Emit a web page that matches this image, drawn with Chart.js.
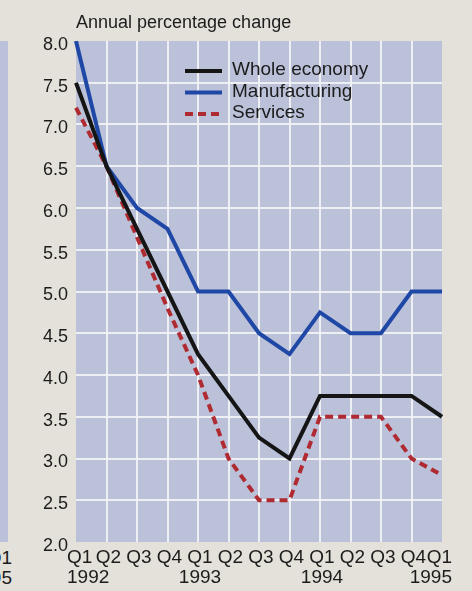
<!DOCTYPE html>
<html>
<head>
<meta charset="utf-8">
<script src="https://cdn.jsdelivr.net/npm/chart.js@4/dist/chart.umd.min.js"></script>
<style>
  html, body { margin: 0; padding: 0; background: #e3e1d9; }
  #wrap { position: relative; width: 472px; height: 591px; overflow: hidden; }
  #title { position: absolute; left: 76px; top: 12px; font: 18px "Liberation Sans", Arial, sans-serif; color: #1c1c1c; white-space: nowrap; }
  #edge { position: absolute; left: 0; top: 41px; width: 8px; height: 501px; background: #bac1d8; }
  .edgeLbl { position: absolute; right: 460px; font: 19px "Liberation Sans", Arial, sans-serif; color: #1c1c1c; white-space: nowrap; }
  canvas { position: absolute; left: 0; top: 0; }
</style>
</head>
<body>
<div id="wrap">
  <div id="edge"></div>
  <div class="edgeLbl" style="top:547px">Q1</div>
  <div class="edgeLbl" style="top:567px">1995</div>
  <canvas id="c" width="472" height="591"></canvas>
  <div id="title">Annual percentage change</div>
</div>
<script>
// Quarterly axis: quarter names, with the year shown under each Q1
const quarters = ["Q1","Q2","Q3","Q4","Q1","Q2","Q3","Q4","Q1","Q2","Q3","Q4","Q1"];
const years    = ["1992","","","","1993","","","","1994","","","","1995"];

// Annual percentage change by sector
const wholeEconomy  = [7.5, 6.5, 5.75, 5.0, 4.25, 3.75, 3.25, 3.0, 3.75, 3.75, 3.75, 3.75, 3.5];
const manufacturing = [8.0, 6.5, 6.0, 5.75, 5.0, 5.0, 4.5, 4.25, 4.75, 4.5, 4.5, 5.0, 5.0];
const services      = [7.2, 6.5, 5.65, 4.8, 4.0, 3.0, 2.5, 2.5, 3.5, 3.5, 3.5, 3.0, 2.8];

const seriesNames = ["Whole economy", "Manufacturing", "Services"];

const labels = quarters.map((q, i) => years[i] ? [q, years[i]] : q);

const FONT = '"Liberation Sans", Arial, sans-serif';
const INK = '#1c1c1c';
const PLOT_BG = '#bac1d8';
const GRID = 'rgba(240,241,244,0.95)';

// fills the plotting area with the tinted panel colour
const panelBg = {
  id: 'panelBg',
  beforeDraw(chart) {
    const { ctx, chartArea: a } = chart;
    ctx.save();
    ctx.fillStyle = PLOT_BG;
    ctx.fillRect(a.left, a.top, a.right - a.left, a.bottom - a.top);
    ctx.restore();
  }
};

// quarter/year labels under the axis; the end labels are tucked inward
const quarterLabels = {
  id: 'quarterLabels',
  afterDraw(chart) {
    const { ctx, chartArea: a } = chart;
    const xs = chart.scales.x;
    const n = labels.length;
    ctx.save();
    ctx.font = '19px ' + FONT;
    ctx.fillStyle = INK;
    ctx.textBaseline = 'middle';
    labels.forEach((lab, i) => {
      const lines = Array.isArray(lab) ? lab : [lab];
      let x = xs.getPixelForTick(i);
      if (i === 0) { ctx.textAlign = 'left'; x -= 9; }
      else if (i === n - 1) { ctx.textAlign = 'right'; x += 10; }
      else { ctx.textAlign = 'center'; x += 2; }
      lines.forEach((t, k) => ctx.fillText(t, x, a.bottom + 16 + k * 20));
    });
    ctx.restore();
  }
};

// key drawn inside the panel, one row per dataset
const insetLegend = {
  id: 'insetLegend',
  afterDatasetsDraw(chart) {
    const { ctx, chartArea: a } = chart;
    const x0 = a.left + 109, len = 37, row = 21.5, y0 = a.top + 30;
    ctx.save();
    ctx.font = '19px ' + FONT;
    ctx.textBaseline = 'middle';
    chart.data.datasets.forEach((ds, i) => {
      const y = y0 + i * row;
      ctx.beginPath();
      ctx.strokeStyle = ds.borderColor;
      ctx.lineWidth = 4;
      ctx.setLineDash(ds.borderDash || []);
      ctx.moveTo(x0, y);
      ctx.lineTo(x0 + len, y);
      ctx.stroke();
      ctx.setLineDash([]);
      ctx.fillStyle = INK;
      ctx.fillText(ds.label, x0 + len + 10, y - 1);
    });
    ctx.restore();
  }
};

const edgeless = (ctx) => {
  const n = ctx.scale.ticks.length;
  return (ctx.index === 0 || ctx.index === n - 1) ? 'rgba(0,0,0,0)' : GRID;
};

new Chart(document.getElementById('c'), {
  type: 'line',
  data: {
    labels: labels,
    datasets: [
      { label: seriesNames[0], data: wholeEconomy,  borderColor: '#151515', borderWidth: 4, pointRadius: 0, tension: 0 },
      { label: seriesNames[1], data: manufacturing, borderColor: '#1f47a6', borderWidth: 4, pointRadius: 0, tension: 0 },
      { label: seriesNames[2], data: services,      borderColor: '#b02a32', borderWidth: 4, borderDash: [8, 5], pointRadius: 0, tension: 0 }
    ]
  },
  options: {
    responsive: false,
    animation: false,
    devicePixelRatio: 1,
    layout: { padding: { left: 0, right: 30, top: 41, bottom: 0 } },
    plugins: { legend: { display: false }, tooltip: { enabled: false } },
    scales: {
      x: {
        offset: false,
        grid: { color: edgeless, lineWidth: 2, drawTicks: false },
        border: { display: false },
        ticks: { display: false, autoSkip: false, maxRotation: 0, minRotation: 0 },
        afterFit(s) { s.height = 49; }
      },
      y: {
        min: 2, max: 8,
        grid: { color: edgeless, lineWidth: 2, drawTicks: false },
        border: { display: false },
        ticks: {
          stepSize: 0.5, padding: 8, labelOffset: 4,
          color: INK, font: { family: FONT, size: 18 },
          callback: (v) => Number(v).toFixed(1)
        },
        afterFit(s) { s.width = 76; }
      }
    }
  },
  plugins: [panelBg, quarterLabels, insetLegend]
});
</script>
</body>
</html>
